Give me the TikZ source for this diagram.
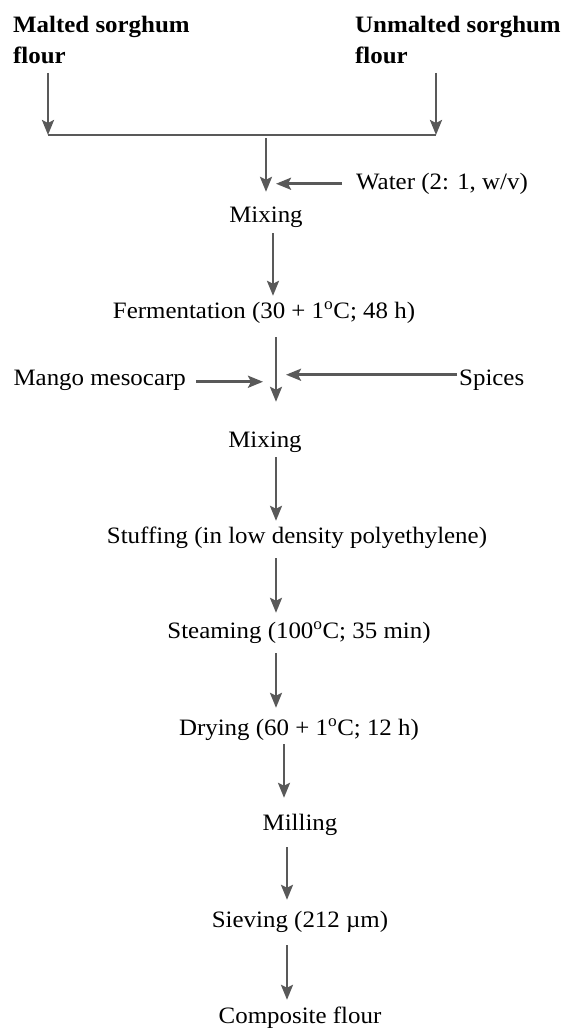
\documentclass[tikz,border=0pt]{standalone}
\usepackage{fontspec}
\setmainfont{Liberation Serif}[FakeStretch=1.06]
\usetikzlibrary{arrows.meta}

\newcommand\flowfont{\fontsize{23.5bp}{31bp}\selectfont}
\definecolor{flowcol}{RGB}{89,89,89}
\tikzset{
  stage/.style={inner sep=0pt,text height=15.5bp,text depth=5bp,anchor=base},
  flow/.style={->,draw=flowcol,line width=2.6bp},
}

\begin{document}
\begin{tikzpicture}[x=1bp,y=-1bp,>={Stealth[length=15bp,width=12bp,inset=3bp]},every node/.style={font=\flowfont}]
\useasboundingbox (0,0) rectangle (575,1028);

% Node: inputs
\node (malt) [inner sep=0pt,anchor=north west,align=left,font=\flowfont\bfseries] at (13,16) {Malted sorghum\\flour};
\node (unmalt) [inner sep=0pt,anchor=north west,align=left,font=\flowfont\bfseries] at (355,16) {Unmalted sorghum\\flour};

% Node: steps
\node (mix1) [stage] at (266,222) {Mixing};
\node (ferm) [stage] at (264,318) {Fermentation (30 + 1\textsuperscript{o}C; 48 h)};
\node (mix2) [stage] at (265,447) {Mixing};
\node (stuff) [stage] at (297,543) {Stuffing (in low density polyethylene)};
\node (steam) [stage] at (299,638) {Steaming (100\textsuperscript{o}C; 35 min)};
\node (dry) [stage] at (299,735) {Drying (60 + 1\textsuperscript{o}C; 12 h)};
\node (mill) [stage] at (300,830) {Milling};
\node (sieve) [stage] at (300,927) {Sieving (212 µm)};
\node (comp) [stage] at (300,1023) {Composite flour};

% Node: additions
\node (water) [stage,anchor=base west] at (356,189) {Water (2: 1, w/v)};
\node (mango) [stage,anchor=base east] at (186,385) {Mango mesocarp};
\node (spices) [stage,anchor=base west] at (459,385) {Spices};

% joints and columns
\coordinate (jl) at (48,135);
\coordinate (jr) at (436,135);
\coordinate (jm) at (266,135);
\coordinate (c273) at (273,0);
\coordinate (c276) at (276,0);
\coordinate (c284) at (284,0);
\coordinate (c287) at (287,0);

% Edge: flours -> joint
\draw [flow,shorten <=9bp] (malt.south -| jl) -- (jl);
\draw [flow,shorten <=9bp] (unmalt.south -| jr) -- (jr);
\draw [draw=flowcol,line width=2.6bp] (jl) -- (jr);

% Edge: joint -> mix1
\draw [flow,shorten <=3bp,shorten >=14.5bp] (jm) -- (mix1.north -| jm);
\draw [flow,shorten <=14bp,shorten >=10bp] (water.west) -- (water.west -| jm);

% Edge: mix1 -> ferm
\draw [flow,shorten <=6bp,shorten >=6.5bp] (mix1.south -| c273) -- (ferm.north -| c273);

% Edge: ferm -> mix2
\draw [flow,shorten <=14bp,shorten >=29.5bp] (ferm.south -| c276) -- (mix2.north -| c276);
\draw [flow,shorten <=10bp,shorten >=13bp] ([yshift=-2bp]mango.east) -- ([yshift=-2bp]mango.east -| c276);
\draw [flow,shorten <=2bp,shorten >=10bp] ([yshift=5bp]spices.west) -- ([yshift=5bp]spices.west -| c276);

% Edge: mix2 -> stuff -> steam -> dry
\draw [flow,shorten <=5bp,shorten >=6.5bp] (mix2.south -| c276) -- (stuff.north -| c276);
\draw [flow,shorten <=10bp,shorten >=9.5bp] (stuff.south -| c276) -- (steam.north -| c276);
\draw [flow,shorten <=10bp,shorten >=11.5bp] (steam.south -| c276) -- (dry.north -| c276);

% Edge: dry -> mill -> sieve -> comp
\draw [flow,shorten <=4bp,shorten >=16.5bp] (dry.south -| c284) -- (mill.north -| c284);
\draw [flow,shorten <=12bp,shorten >=11.5bp] (mill.south -| c287) -- (sieve.north -| c287);
\draw [flow,shorten <=13bp,shorten >=7.5bp] (sieve.south -| c287) -- (comp.north -| c287);
%
\end{tikzpicture}
\end{document}
